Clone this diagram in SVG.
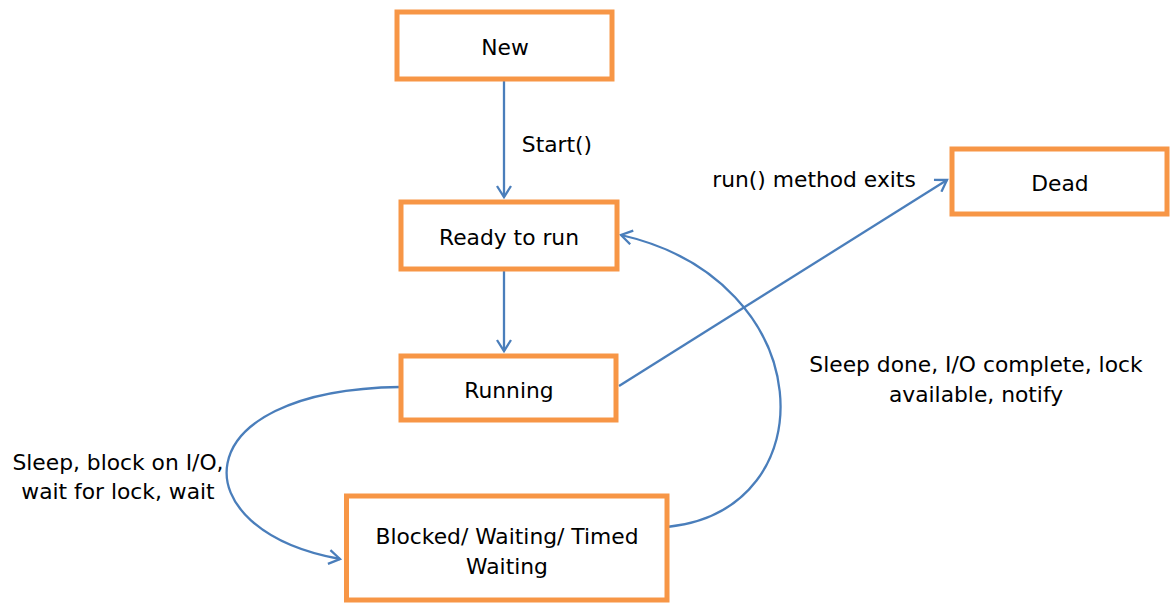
<svg xmlns="http://www.w3.org/2000/svg" width="1173" height="603" viewBox="0 0 1173 603">
<style>
.box{fill:#fff;stroke:#F79646;stroke-width:5}
.lbl{font-family:"DejaVu Sans",sans-serif;font-size:21.8px;fill:#000;text-anchor:middle}
.cn{fill:none;stroke:#4A7EBB;stroke-width:2.3}
</style>
<defs>
<marker id="ah" markerUnits="userSpaceOnUse" markerWidth="16" markerHeight="16" refX="12" refY="7" orient="auto" viewBox="0 0 16 14">
<path d="M1,0 L12,7 L1,14" fill="none" stroke="#4A7EBB" stroke-width="2.3"/>
</marker>
</defs>
<rect width="1173" height="603" fill="#fff"/>
<g id="connectors">
<path class="cn" d="M504,80 L504,197" marker-end="url(#ah)"/>
<path class="cn" d="M504,271 L504,351" marker-end="url(#ah)"/>
<path class="cn" d="M619,386 L947,180" marker-end="url(#ah)"/>
<path class="cn" d="M400,387 C180,390 180,530 340,559" marker-end="url(#ah)"/>
<path class="cn" d="M667,527 C830,510 820,280 621,235" marker-end="url(#ah)"/>
<text class="lbl" x="557" y="152">Start()</text>
<text class="lbl" x="814" y="187">run() method exits</text>
<text class="lbl" x="976" y="372">Sleep done, I/O complete, lock</text>
<text class="lbl" x="976" y="402">available, notify</text>
<text class="lbl" x="118" y="470">Sleep, block on I/O,</text>
<text class="lbl" x="118" y="499">wait for lock, wait</text>
</g>
<g id="new"><rect class="box" x="397" y="12" width="215" height="67"/><text class="lbl" x="505" y="55">New</text></g>
<g id="ready"><rect class="box" x="401" y="202" width="216" height="67"/><text class="lbl" x="509" y="245">Ready to run</text></g>
<g id="running"><rect class="box" x="401" y="356" width="215" height="64"/><text class="lbl" x="509" y="398">Running</text></g>
<g id="blocked"><rect class="box" x="346.5" y="496" width="320.5" height="104"/><text class="lbl" x="507" y="544">Blocked/ Waiting/ Timed</text><text class="lbl" x="507" y="574">Waiting</text></g>
<g id="dead"><rect class="box" x="952" y="149" width="215" height="65"/><text class="lbl" x="1060" y="191">Dead</text></g>
</svg>
